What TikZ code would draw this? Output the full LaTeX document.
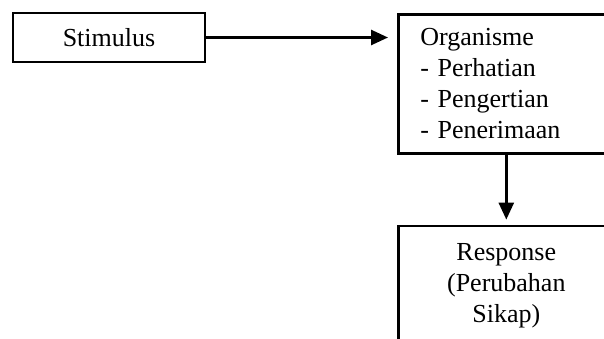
\documentclass[tikz,border=0pt]{standalone}
\usepackage{fontspec}
\setmainfont{Liberation Serif}
\usetikzlibrary{arrows.meta,positioning}

\begin{document}
\begin{tikzpicture}[x=0.5pt,y=-0.5pt,
        kotak/.style={draw,line width=1.3pt,font=\fontsize{13}{15.5}\selectfont},
        panah/.style={-{Triangle[length=8.5pt,width=7.5pt]},line width=1.3pt}]
            \clip (0,0) rectangle (604,338);

            \node[kotak,minimum width=96pt,minimum height=24.5pt] (stimulus) at (109,37.5) {Stimulus};
            \node[kotak,anchor=north west,inner xsep=11pt,text width=86pt,align=left,
                minimum height=69.5pt] (organisme) at (397,13)
                {Organisme\\- Perhatian\\- Pengertian\\- Penerimaan};
            \node[kotak,below=35pt of organisme,text width=86pt,inner xsep=11pt,align=center,
                minimum height=60pt] (response) {Response\\(Perubahan\\Sikap)};

            \draw[panah,shorten >=4.5pt] (stimulus) -- (stimulus -| organisme.west);
            \draw[panah,shorten >=2.5pt] (organisme) -- (response);
        \end{tikzpicture}
\end{document}
